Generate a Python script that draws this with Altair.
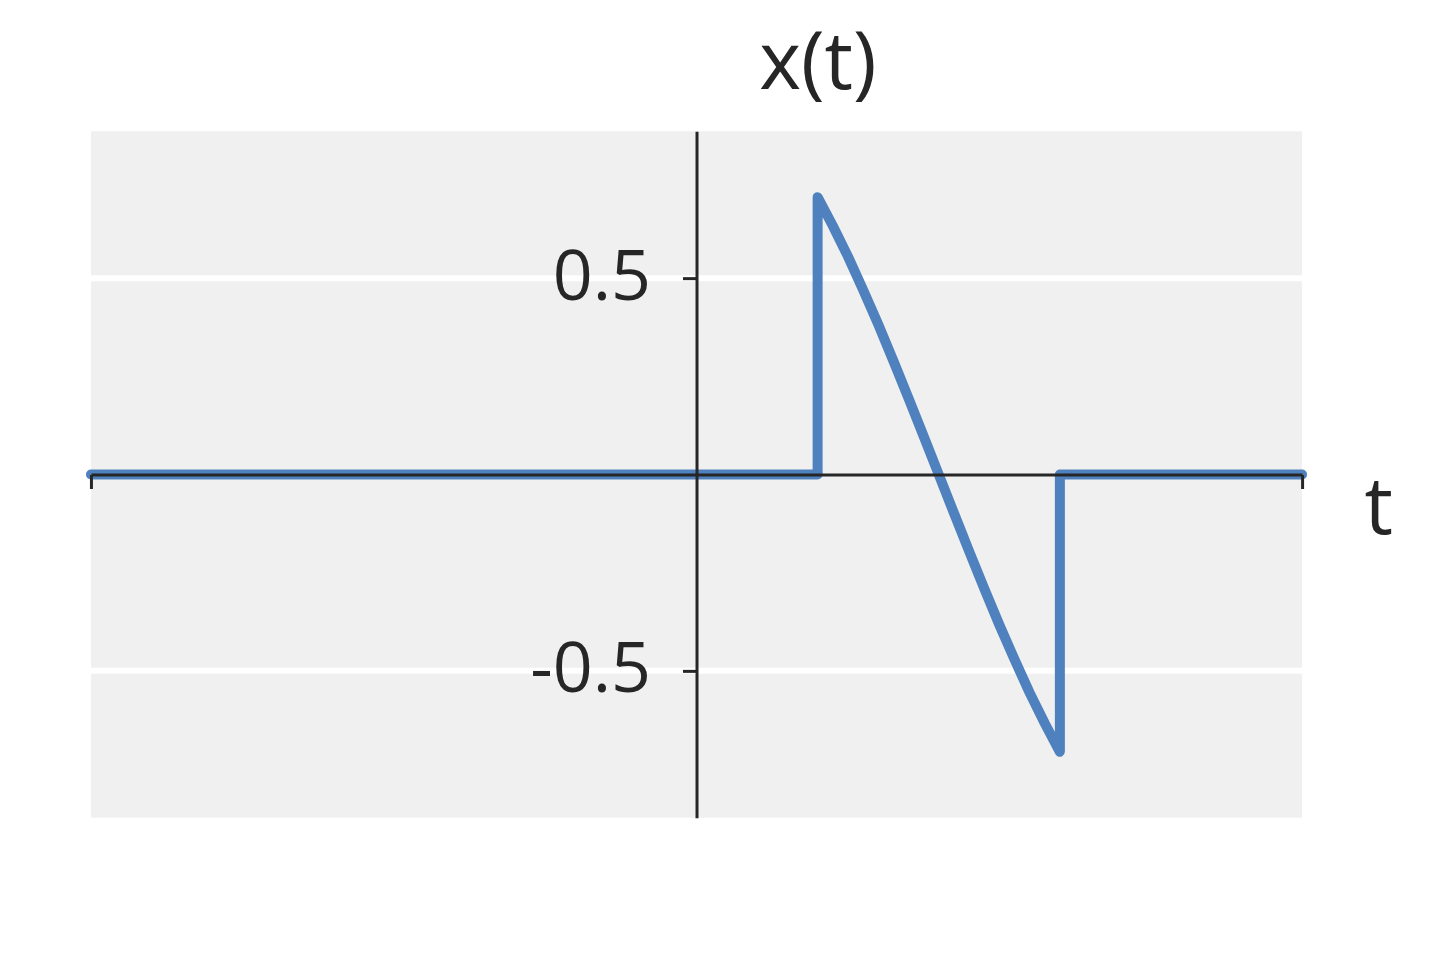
import altair as alt
import pandas as pd

# signal samples
t_vals = [-5.0, 1.0, 1.0, 1.125, 1.25, 1.375, 1.5, 1.625, 1.75, 1.875, 2.0,
          2.125, 2.25, 2.375, 2.5, 2.625, 2.75, 2.875, 3.0, 3.0, 5.0]
x_vals = [0.0, 0.0, 0.707, 0.634, 0.556, 0.471, 0.383, 0.290, 0.195, 0.098, 0.0,
          -0.098, -0.195, -0.290, -0.383, -0.471, -0.556, -0.634, -0.707, 0.0, 0.0]
y_ticks = [-0.5, 0.5]
x_ticks = [-5, 5]
x_domain = [-5, 5]
y_domain = [-0.875, 0.875]

df = pd.DataFrame({"t": t_vals, "x": x_vals, "i": list(range(len(t_vals)))})
grid_df = pd.DataFrame({"x": y_ticks})

FONT = "Open Sans"
INK = "#262626"

xs = alt.Scale(domain=x_domain, nice=False, zero=False)
ys = alt.Scale(domain=y_domain, nice=False, zero=False)

y_axis = alt.Axis(
    values=y_ticks, grid=False, format=".1f",
    labelExpr="replace(datum.label, '\u2212', '-')",
    offset=-606, domainColor=INK, domainWidth=3, tickColor=INK,
    tickWidth=3, tickSize=14, zindex=1, labelPadding=32,
    labelFont=FONT, labelFontSize=70, labelColor=INK,
    title="x(t)", titleFont=FONT, titleFontSize=80, titleFontWeight="normal",
    titleColor=INK, titleAngle=0, titleX=121, titleY=-43,
    titleAlign="center", titleBaseline="alphabetic")

grid = alt.Chart(grid_df).mark_rule(color="white", strokeWidth=6).encode(
    y=alt.Y("x:Q", scale=ys, axis=y_axis)
)

line = alt.Chart(df).mark_line(
    color="#4f81be", strokeWidth=10, strokeCap="round", strokeJoin="round"
).encode(
    x=alt.X("t:Q", scale=xs, axis=alt.Axis(
        values=x_ticks, labels=False, grid=False, title="t",
        offset=-343.5, domainColor=INK, domainWidth=3, tickColor=INK,
        tickWidth=3, tickSize=14, zindex=1,
        titleFont=FONT, titleFontSize=80, titleFontWeight="normal", titleColor=INK,
        titleX=1274, titleY=59, titleAlign="left", titleBaseline="alphabetic",
        titleAngle=0)),
    y=alt.Y("x:Q", scale=ys, axis=y_axis),
    order="i:Q",
)

chart = alt.layer(grid, line).properties(
    width=1212, height=687,
    autosize=alt.AutoSizeParams(type="none"),
    padding={"left": 83, "top": 123, "right": 130, "bottom": 134},
).configure_view(fill="#f0f0f0", stroke=None)

chart.save("out.html", embed_options={"renderer": "svg", "actions": False})
